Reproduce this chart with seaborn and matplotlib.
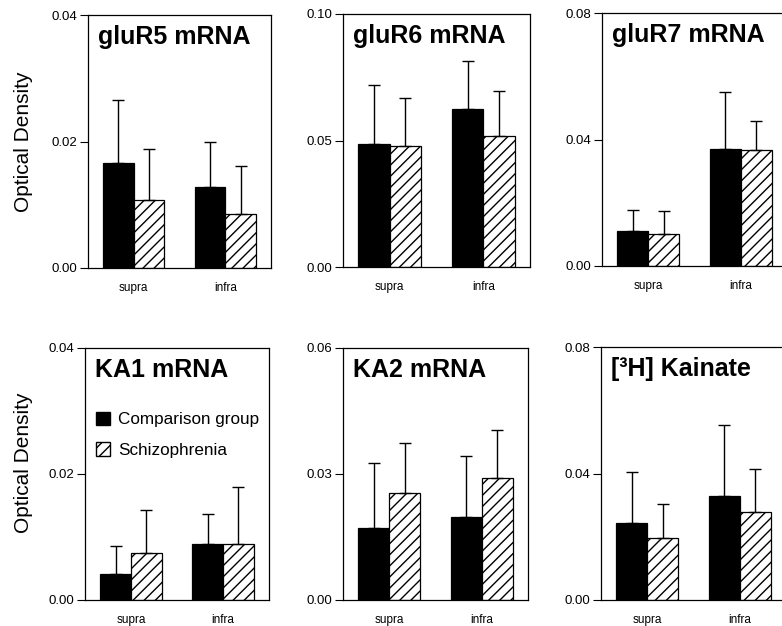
import pandas as pd
import seaborn as sns
import matplotlib.pyplot as plt
from matplotlib.patches import Patch

# Data (mean and upper SD per region)
regions = ["supra", "infra"]
groups = ["Comparison group", "Schizophrenia"]
titles = ["gluR5 mRNA", "gluR6 mRNA", "gluR7 mRNA", "KA1 mRNA", "KA2 mRNA", "[³H] Kainate"]
y_max = [0.04, 0.10, 0.08, 0.04, 0.06, 0.08]

comparison_mean = [[0.0166, 0.0128], [0.0488, 0.0626], [0.0111, 0.0370],
                   [0.0041, 0.0089], [0.0171, 0.0198], [0.0244, 0.0329]]
comparison_sd = [[0.0100, 0.0071], [0.0232, 0.0187], [0.0065, 0.0180],
                 [0.0044, 0.0048], [0.0155, 0.0144], [0.0162, 0.0224]]
schizo_mean = [[0.0107, 0.0086], [0.0479, 0.0519], [0.0101, 0.0368],
               [0.0074, 0.0089], [0.0254, 0.0290], [0.0195, 0.0279]]
schizo_sd = [[0.0081, 0.0076], [0.0189, 0.0177], [0.0074, 0.0092],
             [0.0069, 0.0090], [0.0121, 0.0114], [0.0109, 0.0135]]

sns.set_style("ticks")
plt.rcParams["font.family"] = ["Liberation Sans", "DejaVu Sans"]
plt.rcParams["hatch.linewidth"] = 1.0
for key in ["text.color", "axes.labelcolor", "xtick.color", "ytick.color", "axes.edgecolor"]:
    plt.rcParams[key] = "black"

W, H = 782, 626
fig = plt.figure(figsize=(W / 100, H / 100), dpi=100)

# axes boxes in pixels: left, top, right, bottom
panel_px = [(88, 15, 271, 268), (343, 14, 530, 267), (602, 13, 787, 266),
            (85, 348, 269, 600), (343, 348, 528, 600), (601, 347, 786, 600)]

for i, (l, t, r, b) in enumerate(panel_px):
    ax = fig.add_axes([l / W, (H - b) / H, (r - l) / W, (b - t) / H])

    df = pd.DataFrame({
        "region": regions * 2,
        "group": [groups[0]] * 2 + [groups[1]] * 2,
        "value": comparison_mean[i] + schizo_mean[i],
    })
    sds = [comparison_sd[i], schizo_sd[i]]

    sns.barplot(data=df, x="region", y="value", hue="group", order=regions,
                hue_order=groups, palette=["black", "white"], saturation=1,
                edgecolor="black", linewidth=0.9, errorbar=None, width=0.67,
                legend=False, ax=ax)

    bar_groups = list(ax.containers)
    for k, cont in enumerate(bar_groups):
        for j, bar in enumerate(cont.patches):
            if k == 1:
                bar.set_hatch("///")
            xc = bar.get_x() + bar.get_width() / 2
            ax.errorbar(xc, bar.get_height(), yerr=[[0], [sds[k][j]]],
                        fmt="none", ecolor="black", elinewidth=1.0,
                        capsize=4, capthick=1.0, zorder=1)

    ax.set_xlim(-0.5, 1.5)
    ax.set_ylim(0, y_max[i])
    ax.set_yticks([0, y_max[i] / 2, y_max[i]])
    ax.set_yticklabels([f"{v:.2f}" for v in [0, y_max[i] / 2, y_max[i]]])
    ax.tick_params(axis="y", length=6, width=0.8, pad=1.5, labelsize=9.5)
    ax.tick_params(axis="x", length=0, pad=10, labelsize=8.5)
    ax.set_xlabel("")
    ax.set_ylabel("")
    for sp in ax.spines.values():
        sp.set_linewidth(0.9)

    ax.text(0.055, 0.96, titles[i], transform=ax.transAxes, ha="left", va="top",
            fontsize=18, fontweight="bold")

    if i in (0, 3):
        ax.set_ylabel("Optical Density", fontsize=15)
        ax.yaxis.set_label_coords((33 - l) / (r - l), 0.5 if i == 0 else 0.545)

    if i == 3:
        handles = [Patch(facecolor="black", edgecolor="black"),
                   Patch(facecolor="white", edgecolor="black", hatch="///")]
        ax.legend(handles, groups, loc="center left", bbox_to_anchor=(-0.025, 0.655),
                  frameon=False, fontsize=12.3, handlelength=0.85, handleheight=0.85,
                  handletextpad=0.45, labelspacing=0.88, borderaxespad=0.5)

fig.savefig("out.png", dpi=100)
